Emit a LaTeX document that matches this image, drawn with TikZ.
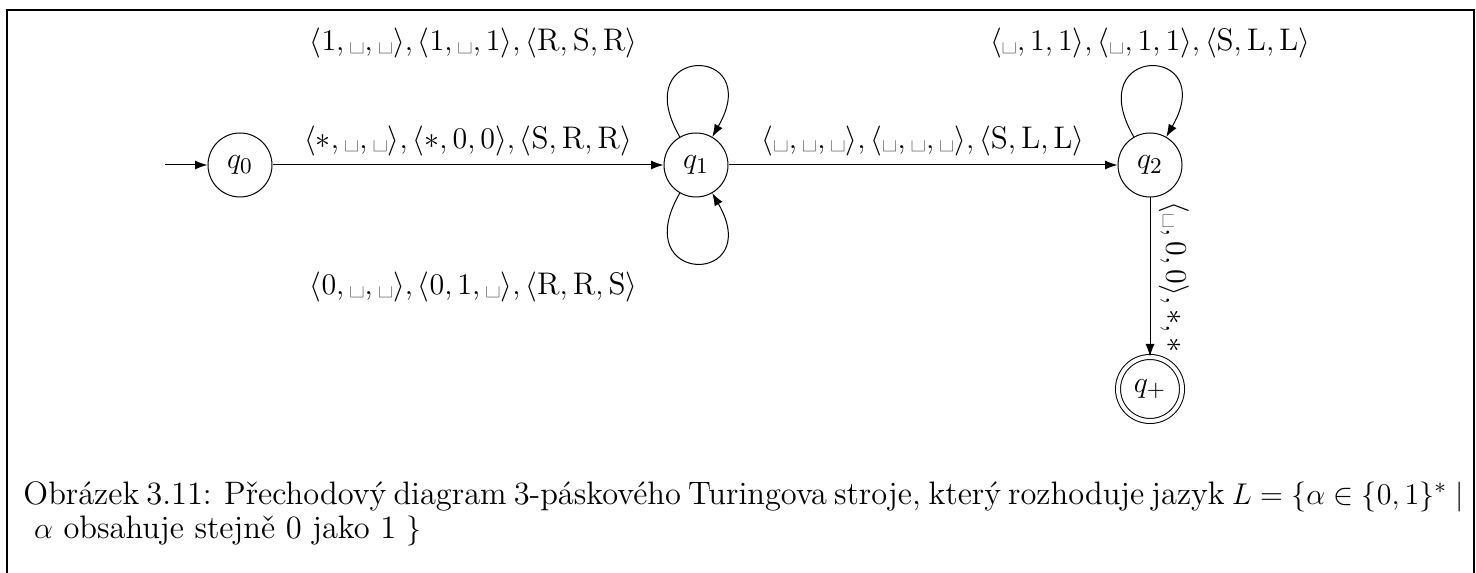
\documentclass[tikz,border=0pt]{standalone}
\usepackage{fontspec}
\usepackage{amsmath}
\usetikzlibrary{arrows.meta,positioning}
\newcommand{\blank}{\text{\textvisiblespace}}

\begin{document}
\begin{tikzpicture}[
  font=\fontsize{12.5}{15}\selectfont,
  node distance=156pt,
  tmstate/.style={circle, draw, minimum size=25.6pt, inner sep=1pt},
  final/.style={double, double distance=1.6pt},
  arrow/.style={-{Latex[length=5pt,width=3.6pt]}},
  selfloop/.style={looseness=8.5},
]
  % frame and size of the figure
  \useasboundingbox (-96pt,-163.2pt) rectangle (494.4pt,66pt);
  \draw[line width=0.6pt] (-93.2pt,-163.2pt) |- (493.6pt,62pt) -- (493.6pt,-163.2pt);

  \node[tmstate] (q0) {$q_0$};
  \node[tmstate, right=156.4pt of q0] (q1) {$q_1$};
  \node[tmstate, right=155.6pt of q1] (q2) {$q_2$};
  \node[tmstate, final, below=63.6pt of q2] (qacc) {$q_+$};
  \coordinate[left=16.8pt of q0] (start);

  \draw[arrow] (start) -- (q0);
  \draw[arrow] (q0) -- node[above]
    {$\langle *, \blank, \blank\rangle, \langle *, 0, 0\rangle, \langle \mathrm{S}, \mathrm{R}, \mathrm{R}\rangle$} (q1);
  \draw[arrow] (q1) -- node[above]
    {$\langle \blank, \blank, \blank\rangle, \langle \blank, \blank, \blank\rangle, \langle \mathrm{S}, \mathrm{L}, \mathrm{L}\rangle$} (q2);
  \draw[arrow] (q2) -- node[rotate=-90, anchor=south]
    {$\langle \blank, 0, 0\rangle, *, *$} (qacc);

  % loops
  \draw[arrow] (q1) to[out=120, in=60, selfloop] node[above left, xshift=-20pt]
    {$\langle 1, \blank, \blank\rangle, \langle 1, \blank, 1\rangle, \langle \mathrm{R}, \mathrm{S}, \mathrm{R}\rangle$} (q1);
  \draw[arrow] (q1) to[out=240, in=300, selfloop] node[below left, xshift=-20pt]
    {$\langle 0, \blank, \blank\rangle, \langle 0, 1, \blank\rangle, \langle \mathrm{R}, \mathrm{R}, \mathrm{S}\rangle$} (q1);
  \draw[arrow] (q2) to[out=120, in=60, selfloop] node[above]
    {$\langle \blank, 1, 1\rangle, \langle \blank, 1, 1\rangle, \langle \mathrm{S}, \mathrm{L}, \mathrm{L}\rangle$} (q2);

  \node[anchor=north west, inner sep=0pt, align=left,
        font=\fontsize{13}{13.5}\selectfont] (caption) at (-86.8pt,-126.4pt)
    {\makebox[576pt][s]{Obrázek 3.11: Přechodový diagram 3-páskového Turingova stroje, který rozhoduje jazyk \mbox{$L = \{\alpha \in \{0,1\}^* \mid$}}\\
     \ $\alpha$ obsahuje stejně 0 jako 1 $\}$};
\end{tikzpicture}
\end{document}
